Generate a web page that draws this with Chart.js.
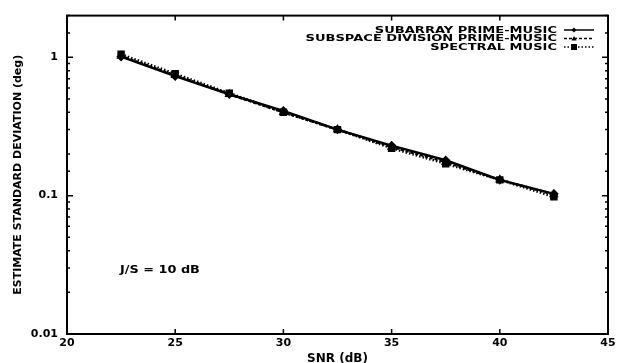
<!DOCTYPE html>
<html lang="en">
<head>
    <meta charset="UTF-8">
    <title>Estimate standard deviation vs SNR</title>
    <script src="https://cdn.jsdelivr.net/npm/chart.js"></script>
    <style>
        html, body { margin: 0; padding: 0; background: #fff; }
        #wrap { width: 619px; height: 363px; }
    </style>
</head>
<body>
    <div id="wrap"><canvas id="snrChart" width="619" height="363"></canvas></div>

    <script>
        // data
        const snrValues = [22.5, 25, 27.5, 30, 32.5, 35, 37.5, 40, 42.5];
        const subarrayPrime = [1.01, 0.73, 0.54, 0.41, 0.30, 0.23, 0.18, 0.13, 0.103];
        const subspacePrime = [1.02, 0.74, 0.54, 0.40, 0.30, 0.225, 0.175, 0.13, 0.102];
        const spectralMusic = [1.05, 0.76, 0.55, 0.40, 0.30, 0.22, 0.17, 0.13, 0.098];
        const seriesLabels = ['SUBARRAY PRIME-MUSIC', 'SUBSPACE DIVISION PRIME-MUSIC', 'SPECTRAL MUSIC'];
        const xTicks = [20, 25, 30, 35, 40, 45];
        const yTicks = [0.01, 0.1, 1];

        const FONT = '"DejaVu Sans", "Liberation Sans", sans-serif';

        function points(vals) {
            return snrValues.map((x, i) => ({ x: x, y: vals[i] }));
        }

        // stretched bold text, the scan uses a wide face
        function wideText(ctx, text, x, y, stretch, align) {
            ctx.save();
            ctx.translate(x, y);
            ctx.scale(stretch, 1);
            ctx.textAlign = align;
            ctx.fillText(text, 0, 0);
            ctx.restore();
        }

        // inward ticks, frame, legend and the J/S note
        const paperPlugin = {
            id: 'paper',
            afterDraw(chart) {
                const ctx = chart.ctx;
                const a = chart.chartArea;
                const xs = chart.scales.x, ys = chart.scales.y;
                ctx.save();
                ctx.strokeStyle = '#000';
                ctx.lineWidth = 2;
                ctx.strokeRect(a.left, a.top, a.right - a.left, a.bottom - a.top);

                ctx.lineWidth = 1.5;
                xTicks.forEach(v => {
                    const px = xs.getPixelForValue(v);
                    ctx.beginPath();
                    ctx.moveTo(px, a.bottom); ctx.lineTo(px, a.bottom - 5);
                    ctx.moveTo(px, a.top); ctx.lineTo(px, a.top + 5);
                    ctx.stroke();
                });
                ys.ticks.forEach(t => {
                    const py = ys.getPixelForValue(t.value);
                    const len = yTicks.some(m => Math.abs(m - t.value) < 1e-9) ? 6 : 3;
                    ctx.beginPath();
                    ctx.moveTo(a.left, py); ctx.lineTo(a.left + len, py);
                    ctx.moveTo(a.right, py); ctx.lineTo(a.right - len, py);
                    ctx.stroke();
                });

                // legend, text right aligned, sample on the right
                ctx.font = 'bold 9px ' + FONT;
                ctx.textBaseline = 'middle';
                ctx.fillStyle = '#000';
                const rows = [30, 38.5, 47];
                chart.data.datasets.forEach((ds, i) => {
                    const y = rows[i];
                    wideText(ctx, ds.label, 557, y + 0.5, 1.45, 'right');
                    ctx.beginPath();
                    ctx.setLineDash(ds.borderDash || []);
                    ctx.lineWidth = 1.5;
                    ctx.moveTo(564, y); ctx.lineTo(594, y);
                    ctx.stroke();
                    ctx.setLineDash([]);
                    // marker in the middle of the sample
                    const mx = 574;
                    ctx.beginPath();
                    if (ds.pointStyle === 'rect') {
                        ctx.fillRect(mx - 3, y - 3, 6, 6);
                    } else if (ds.pointStyle === 'triangle') {
                        ctx.moveTo(mx, y - 2.5); ctx.lineTo(mx + 2.5, y + 2); ctx.lineTo(mx - 2.5, y + 2);
                        ctx.closePath(); ctx.fill();
                    } else {
                        ctx.moveTo(mx, y - 2.5); ctx.lineTo(mx + 2.5, y); ctx.lineTo(mx, y + 2.5); ctx.lineTo(mx - 2.5, y);
                        ctx.closePath(); ctx.fill();
                    }
                });

                ctx.font = 'bold 11px ' + FONT;
                wideText(ctx, 'J/S = 10 dB', xs.getPixelForValue(22.45), ys.getPixelForValue(0.029), 1.17, 'left');
                ctx.restore();
            }
        };

        new Chart(document.getElementById('snrChart').getContext('2d'), {
            type: 'line',
            data: {
                datasets: [
                    {
                        label: seriesLabels[0],
                        data: points(subarrayPrime),
                        borderColor: '#000',
                        backgroundColor: '#000',
                        borderWidth: 2.5,
                        pointStyle: 'rectRot',
                        pointRadius: 3,
                        borderDash: []
                    },
                    {
                        label: seriesLabels[1],
                        data: points(subspacePrime),
                        borderColor: '#000',
                        backgroundColor: '#000',
                        borderWidth: 2.5,
                        pointStyle: 'triangle',
                        pointRadius: 3,
                        borderDash: [3, 2]
                    },
                    {
                        label: seriesLabels[2],
                        data: points(spectralMusic),
                        borderColor: '#000',
                        backgroundColor: '#000',
                        borderWidth: 2.5,
                        pointStyle: 'rect',
                        pointRadius: 3.5,
                        borderDash: [1.5, 2]
                    }
                ]
            },
            options: {
                responsive: false,
                animation: false,
                layout: { padding: { top: 12, right: 11, left: 0, bottom: 0 } },
                plugins: {
                    legend: { display: false },
                    tooltip: { enabled: false }
                },
                elements: { line: { tension: 0 } },
                scales: {
                    x: {
                        type: 'linear',
                        min: 20,
                        max: 45,
                        afterBuildTicks(scale) {
                            scale.ticks = xTicks.map(v => ({ value: v }));
                        },
                        afterFit(scale) { scale.height = 29; },
                        grid: { display: false, drawTicks: false },
                        border: { display: false },
                        ticks: {
                            color: '#000',
                            padding: 3,
                            font: { family: FONT, size: 11, weight: 'bold' }
                        },
                        title: {
                            display: true,
                            text: 'SNR (dB)',
                            color: '#000',
                            padding: { top: 0, bottom: -3 },
                            font: { family: FONT, size: 12, weight: 'bold' }
                        }
                    },
                    y: {
                        type: 'logarithmic',
                        min: 0.01,
                        max: 2,
                        afterFit(scale) { scale.width = 67; },
                        grid: { display: false, drawTicks: false },
                        border: { display: false },
                        ticks: {
                            color: '#000',
                            padding: 9,
                            autoSkip: false,
                            font: { family: FONT, size: 11, weight: 'bold' },
                            callback(v) {
                                const hit = yTicks.find(m => Math.abs(m - v) < 1e-9);
                                return hit === undefined ? '' : String(hit);
                            }
                        },
                        title: {
                            display: true,
                            text: 'ESTIMATE STANDARD DEVIATION (deg)',
                            color: '#000',
                            padding: { top: 12, bottom: 0 },
                            font: { family: FONT, size: 11, weight: 'bold' }
                        }
                    }
                }
            },
            plugins: [paperPlugin]
        });
    </script>
</body>
</html>
